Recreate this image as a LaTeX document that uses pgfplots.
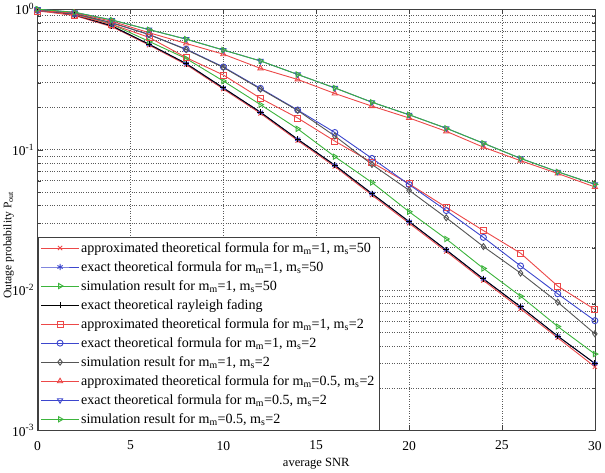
\documentclass[border=0pt]{standalone}
\usepackage{fontspec}
\setmainfont{Liberation Serif}
\usepackage{pgfplots}
\pgfplotsset{compat=1.18}
\usepackage{pgfplotstable}
\definecolor{mred}{RGB}{236,72,72}
\definecolor{mblue}{RGB}{60,70,205}
\definecolor{mgreen}{RGB}{60,180,60}
\definecolor{mgray}{RGB}{85,85,85}
\pgfplotstableread{
s   a150    e150    s150    ray     a12     e12     s12     a052    e052    s052
0   0.98    0.99    1.00    0.99    0.97    0.98    0.98    0.98    1.00    1.00
2   0.90    0.91    0.93    0.91    0.91    0.93    0.93    0.94    0.95    0.95
4   0.75    0.76    0.78    0.76    0.78    0.80    0.80    0.82    0.838   0.838
6   0.555   0.563   0.59    0.563   0.63    0.66    0.66    0.68    0.715   0.715
8   0.403   0.41    0.445   0.41    0.452   0.519   0.515   0.57    0.612   0.612
10  0.27    0.275   0.308   0.275   0.34    0.388   0.385   0.478   0.512   0.512
12  0.181   0.1846  0.209   0.1846  0.232   0.273   0.270   0.379   0.428   0.428
14  0.116   0.1185  0.1406  0.1185  0.168   0.1915  0.19    0.316   0.343   0.343
16  0.0758  0.0775  0.0891  0.0775  0.115   0.1324  0.125   0.251   0.275   0.275
18  0.0474  0.0486  0.0583  0.0486  0.081   0.0866  0.0784  0.204   0.2175  0.2175
20  0.0299  0.0307  0.0361  0.0307  0.057   0.0564  0.0513  0.168   0.177   0.177
22  0.0188  0.0193  0.0231  0.0193  0.0388  0.0368  0.0327  0.135   0.142   0.142
24  0.0117  0.0120  0.01425 0.0120  0.0265  0.0237  0.0204  0.104   0.111   0.111
26  0.00735 0.0076  0.00904 0.0076  0.0183  0.01485 0.0132  0.0834  0.0866  0.0866
28  0.00457 0.0047  0.0055  0.0047  0.01067 0.0094  0.00819 0.0676  0.0695  0.0695
30  0.00284 0.0030  0.0035  0.0030  0.00726 0.00605 0.00488 0.0542  0.0566  0.0566
}\data
\begin{document}
\begin{tikzpicture}
\begin{semilogyaxis}[
  scale only axis,
  width=553bp, height=418bp,
  xmin=0, xmax=30, ymin=0.001, ymax=1,
  xtick={0,5,...,30},
  ytick={1,0.1,0.01,0.001},
  minor ytick={0.002,0.003,0.004,0.005,0.006,0.007,0.008,0.009,
               0.02,0.03,0.04,0.05,0.06,0.07,0.08,0.09,
               0.2,0.3,0.4,0.5,0.6,0.7,0.8,0.9},
  yticklabels={10\textsuperscript{0},10\textsuperscript{-1},10\textsuperscript{-2},10\textsuperscript{-3}},
  /pgf/number format/assume math mode=true,
  tick label style={font=\fontsize{13.5}{15}\selectfont},
  xticklabel style={yshift=-7pt},
  xlabel style={font=\fontsize{12.5}{14}\selectfont, yshift=-1pt},
  ylabel style={font=\fontsize{11.5}{13}\selectfont, at={(axis description cs:-0.052,0.44)}, anchor=center},
  xlabel={average SNR},
  ylabel={Outage probability P\textsubscript{out}},
  xmajorgrids, ymajorgrids, yminorgrids,
  major grid style={dotted, black!65, line width=0.7pt},
  minor grid style={dotted, black!65, line width=0.7pt},
  axis line style={black!75, line width=0.7pt},
  tick style={black!75},
  tick align=inside,
  major tick length=5pt,
  minor tick length=3pt,
  every axis plot/.append style={line width=0.9pt, mark size=3pt},
  legend cell align=left,
  legend style={at={(0,0)}, anchor=south west, font=\fontsize{14}{14}\selectfont,
    draw=black!75, line width=0.9pt, row sep=3.6pt, inner sep=3pt},
  legend image code/.code={\draw[mark repeat=2,mark phase=2,#1] plot coordinates {(0cm,0cm) (0.65cm,0cm) (1.3cm,0cm)};},
]
\addplot[mred, mark=x, mark options={solid}] table[x=s,y=a150]{\data};
\addlegendentry{approximated theoretical formula for m\textsubscript{m}=1, m\textsubscript{s}=50}
\addplot[mblue, mark=asterisk] table[x=s,y=e150]{\data};
\addlegendentry{exact theoretical formula for m\textsubscript{m}=1, m\textsubscript{s}=50}
\addplot[mgreen, mark=triangle, mark options={rotate=-90}] table[x=s,y=s150]{\data};
\addlegendentry{simulation result for m\textsubscript{m}=1, m\textsubscript{s}=50}
\addplot[black, mark=+] table[x=s,y=ray]{\data};
\addlegendentry{exact theoretical rayleigh fading}
\addplot[mred, mark=square] table[x=s,y=a12]{\data};
\addlegendentry{approximated theoretical formula for m\textsubscript{m}=1, m\textsubscript{s}=2}
\addplot[mblue, mark=o] table[x=s,y=e12]{\data};
\addlegendentry{exact theoretical formula for m\textsubscript{m}=1, m\textsubscript{s}=2}
\addplot[mgray, mark=diamond] table[x=s,y=s12]{\data};
\addlegendentry{simulation result for m\textsubscript{m}=1, m\textsubscript{s}=2}
\addplot[mred, mark=triangle] table[x=s,y=a052]{\data};
\addlegendentry{approximated theoretical formula for m\textsubscript{m}=0.5, m\textsubscript{s}=2}
\addplot[mblue, mark=triangle, mark options={rotate=180}] table[x=s,y=e052]{\data};
\addlegendentry{exact theoretical formula for m\textsubscript{m}=0.5, m\textsubscript{s}=2}
\addplot[mgreen, mark=triangle, mark options={rotate=-90}] table[x=s,y=s052]{\data};
\addlegendentry{simulation result for m\textsubscript{m}=0.5, m\textsubscript{s}=2}
\end{semilogyaxis}
\end{tikzpicture}
\end{document}
